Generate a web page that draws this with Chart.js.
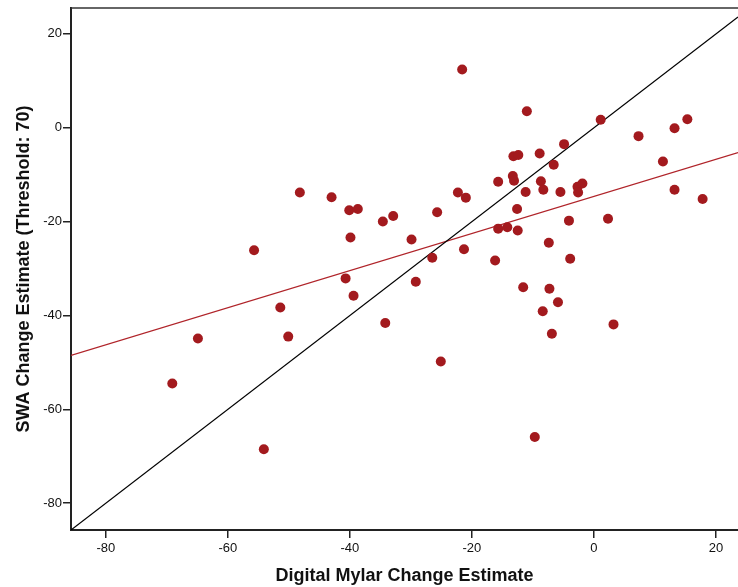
<!DOCTYPE html>
<html lang="en">
<head>
    <meta charset="UTF-8">
    <title>SWA vs Digital Mylar</title>
    <script src="https://cdn.jsdelivr.net/npm/chart.js"></script>
    <style>
        * {
            margin: 0;
            padding: 0;
            box-sizing: border-box;
        }

        body {
            background-color: #ffffff;
            width: 738px;
            height: 587px;
            overflow: hidden;
        }

        .chart-container {
            position: relative;
            width: 738px;
            height: 587px;
        }
    </style>
</head>
<body>
    <div class="chart-container">
        <canvas id="scatterChart"></canvas>
    </div>

    <script>
        // change estimates per case: Digital Mylar (x) and SWA (y)
        const mylarChange = [
            -69.1, -64.9, -55.7, -54.1, -51.4, -50.1, -48.2, -43.0, -40.1, -38.7,
            -39.9, -40.7, -39.4, -34.6, -32.9, -34.2, -29.9, -29.2, -26.5, -25.7,
            -25.1, -22.3, -21.0, -21.3, -21.6, -16.2, -15.7, -15.7, -14.2, -13.3,
            -13.1, -13.2, -12.4, -12.6, -12.5, -11.6, -11.2, -11.0, -9.7, -8.9,
            -8.7, -8.3, -8.4, -7.4, -7.3, -6.9, -6.6, -5.9, -5.5, -4.9,
            -4.1, -3.9, -2.7, -2.6, -1.9, 1.1, 2.3, 3.2, 7.3, 11.3,
            13.2, 13.2, 15.3, 17.8
        ];
        const swaChange = [
            -54.5, -44.9, -26.1, -68.5, -38.3, -44.5, -13.8, -14.8, -17.6, -17.3,
            -23.4, -32.1, -35.8, -20.0, -18.8, -41.6, -23.8, -32.8, -27.7, -18.0,
            -49.8, -13.8, -14.9, -25.9, 12.4, -28.3, -11.5, -21.5, -21.2, -10.3,
            -11.3, -6.1, -5.8, -17.3, -21.9, -34.0, -13.7, 3.5, -65.9, -5.5,
            -11.4, -13.2, -39.1, -24.5, -34.3, -43.9, -7.9, -37.2, -13.7, -3.5,
            -19.8, -27.9, -12.6, -13.8, -11.9, 1.7, -19.4, -41.9, -1.8, -7.2,
            -0.1, -13.2, 1.8, -15.2
        ];

        // axis ranges and tick labels
        const xRange = [-85.7, 23.6];
        const yRange = [-85.7, 25.5];
        const xTicks = [-80, -60, -40, -20, 0, 20];
        const yTicks = [-80, -60, -40, -20, 0, 20];

        // reference lines: identity (y = x) and fitted line endpoints
        const identityLine = [[-85.7, -85.7], [23.6, 23.6]];
        const fitLine = [[-85.7, -48.5], [23.6, -5.3]];

        const toPoints = pairs => pairs.map(([x, y]) => ({ x, y }));
        const points = mylarChange.map((x, i) => ({ x, y: swaChange[i] }));

        // thin frame line along the top of the plot area
        const topFrame = {
            id: 'topFrame',
            afterDraw(chart) {
                const { ctx, chartArea } = chart;
                ctx.save();
                ctx.strokeStyle = '#333';
                ctx.lineWidth = 1.5;
                ctx.beginPath();
                ctx.moveTo(chartArea.left, chartArea.top);
                ctx.lineTo(chartArea.right, chartArea.top);
                ctx.stroke();
                ctx.restore();
            }
        };

        // keep the plot area flush with the canvas edges
        function noEdgePadding(scale) {
            scale.paddingLeft = 0;
            scale.paddingRight = 0;
            scale.paddingTop = 0;
            scale.paddingBottom = 0;
        }

        Chart.defaults.font.family = "'Liberation Sans', Arial, sans-serif";
        Chart.defaults.color = '#111';

        const ctx = document.getElementById('scatterChart').getContext('2d');
        new Chart(ctx, {
            type: 'scatter',
            data: {
                datasets: [
                    {
                        label: 'Cases',
                        data: points,
                        backgroundColor: '#a31a1e',
                        borderColor: '#a31a1e',
                        pointRadius: 5,
                        pointHoverRadius: 5,
                        borderWidth: 0,
                        order: 0
                    },
                    {
                        type: 'line',
                        label: 'Identity',
                        data: toPoints(identityLine),
                        borderColor: '#000000',
                        borderWidth: 1.2,
                        pointRadius: 0,
                        fill: false,
                        order: 1
                    },
                    {
                        type: 'line',
                        label: 'Fit',
                        data: toPoints(fitLine),
                        borderColor: '#b0242a',
                        borderWidth: 1.2,
                        pointRadius: 0,
                        fill: false,
                        order: 1
                    }
                ]
            },
            options: {
                responsive: true,
                maintainAspectRatio: false,
                animation: false,
                layout: {
                    autoPadding: false,
                    padding: { top: 8, right: 0, bottom: 0, left: 0 }
                },
                plugins: {
                    legend: { display: false },
                    tooltip: { enabled: false }
                },
                scales: {
                    x: {
                        type: 'linear',
                        min: xRange[0],
                        max: xRange[1],
                        afterBuildTicks: scale => {
                            scale.ticks = xTicks.map(v => ({ value: v }));
                        },
                        afterFit: scale => {
                            scale.height = 57;
                            noEdgePadding(scale);
                        },
                        grid: {
                            drawOnChartArea: false,
                            drawTicks: true,
                            tickLength: 8,
                            color: '#222',
                            lineWidth: 1.5
                        },
                        border: { display: true, color: '#222', width: 2 },
                        ticks: {
                            padding: 3,
                            maxRotation: 0,
                            font: { size: 13 },
                            color: '#111'
                        },
                        title: {
                            display: true,
                            text: 'Digital Mylar Change Estimate',
                            font: { size: 18, weight: 'bold' },
                            color: '#111',
                            padding: { top: 0, bottom: 0 }
                        }
                    },
                    y: {
                        type: 'linear',
                        min: yRange[0],
                        max: yRange[1],
                        afterBuildTicks: scale => {
                            scale.ticks = yTicks.map(v => ({ value: v }));
                        },
                        afterFit: scale => {
                            scale.width = 71;
                            noEdgePadding(scale);
                        },
                        grid: {
                            drawOnChartArea: false,
                            drawTicks: true,
                            tickLength: 8,
                            color: '#222',
                            lineWidth: 1.5
                        },
                        border: { display: true, color: '#222', width: 2 },
                        ticks: {
                            padding: 1,
                            font: { size: 13 },
                            color: '#111'
                        },
                        title: {
                            display: true,
                            text: 'SWA Change Estimate (Threshold: 70)',
                            font: { size: 18, weight: 'bold' },
                            color: '#111',
                            padding: { top: 13, bottom: 0 }
                        }
                    }
                }
            },
            plugins: [topFrame]
        });
    </script>
</body>
</html>
